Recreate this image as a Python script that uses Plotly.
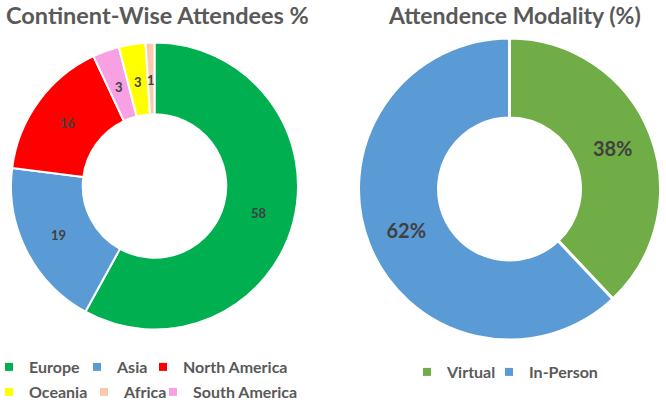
import math
import plotly.graph_objects as go

# ---- data ----
continents = ["Europe", "Asia", "North America", "South America", "Oceania", "Africa"]
continent_pct = [58, 19, 16, 3, 3, 1]
continent_colors = ["#00B050", "#5B9BD5", "#FF0000", "#F8A0E4", "#FFFF00", "#F8CBAD"]
legend_order = ["Europe", "Asia", "North America", "Oceania", "Africa", "South America"]

modality = ["Virtual", "In-Person"]
modality_pct = [38, 62]
modality_colors = ["#70AD47", "#5B9BD5"]

title_left = "Continent-Wise Attendees %"
title_right = "Attendence Modality (%)"

W, H = 666, 402
FONT = "Lato"
GREY = "#595959"
DARK = "#404040"

fig = go.Figure()

# left donut geometry (pixels)
lcx, lcy, lr = 154.5, 186.0, 143.5
lhole = 0.5
small = [v < 5 for v in continent_pct]
fig.add_trace(go.Pie(
    labels=continents, values=continent_pct, sort=False, direction="clockwise",
    rotation=0, hole=lhole,
    marker=dict(colors=continent_colors, line=dict(color="white", width=2)),
    texttemplate=["" if s else "%{value}" for s in small],
    textposition="inside", insidetextorientation="horizontal",
    textfont=dict(family=FONT, size=13, color=DARK, weight="bold"),
    domain=dict(x=[(lcx - lr) / W, (lcx + lr) / W], y=[1 - (lcy + lr) / H, 1 - (lcy - lr) / H]),
    showlegend=False, hoverinfo="label+value",
))

# labels of the thin slices, placed at mid-ring along each slice's bisector
annotations = []
total = sum(continent_pct)
cum = 0
rmid = lr * (1 + lhole) / 2 - 2
for v, s in zip(continent_pct, small):
    if s:
        ang = 2 * math.pi * (cum + v / 2) / total
        px = lcx + rmid * math.sin(ang)
        py = lcy - rmid * math.cos(ang)
        annotations.append(dict(text=str(v), x=px / W, y=1 - py / H, xref="paper", yref="paper",
                                showarrow=False, xanchor="center", yanchor="middle",
                                font=dict(family=FONT, size=13, color=DARK, weight="bold")))
    cum += v

# right donut geometry (pixels)
rcx, rcy, rr = 509.5, 189.0, 151.0
fig.add_trace(go.Pie(
    labels=modality, values=modality_pct, sort=False, direction="clockwise",
    rotation=0, hole=0.47,
    marker=dict(colors=modality_colors, line=dict(color="white", width=3)),
    textinfo="percent", textposition="inside", insidetextorientation="horizontal",
    textfont=dict(family=FONT, size=20, color=DARK, weight="bold"),
    domain=dict(x=[(rcx - rr) / W, (rcx + rr) / W], y=[1 - (rcy + rr) / H, 1 - (rcy - rr) / H]),
    showlegend=False, hoverinfo="label+percent",
))

# legend entries: one small legend per entry so each sits where the reference has it
cmap = dict(zip(continents, continent_colors))
cmap.update(dict(zip(modality, modality_colors)))
entries = legend_order + modality
text_x = [29, 117, 183, 29, 124, 193, 447, 529]   # left edge of legend text (px)
row_y = [367, 367, 367, 392, 392, 392, 372, 372]  # legend row centre (px)

legfont = dict(family=FONT, size=16, color=GREY, weight="bold")
legend_layouts = {}
for i, (name, tx, ty) in enumerate(zip(entries, text_x, row_y)):
    key = "legend" if i == 0 else f"legend{i + 1}"
    fig.add_trace(go.Scatter(x=[None], y=[None], mode="markers", name=name,
                             marker=dict(symbol="square", size=8, color=cmap[name]),
                             legend=key))
    legend_layouts[key] = dict(orientation="h", font=legfont, bgcolor="rgba(0,0,0,0)",
                               itemwidth=30, xanchor="left", yanchor="middle",
                               x=(tx - 40) / W, y=1 - ty / H)

annotations += [
    dict(text=title_left, x=157 / W, y=1 - 15 / H, xref="paper", yref="paper",
         showarrow=False, xanchor="center", yanchor="middle",
         font=dict(family=FONT, size=23.5, color=GREY, weight="bold")),
    dict(text=title_right, x=514 / W, y=1 - 15 / H, xref="paper", yref="paper",
         showarrow=False, xanchor="center", yanchor="middle",
         font=dict(family=FONT, size=23, color=GREY, weight="bold")),
]

fig.update_layout(
    width=W, height=H, margin=dict(l=0, r=0, t=0, b=0, autoexpand=False),
    paper_bgcolor="white", plot_bgcolor="white",
    xaxis=dict(visible=False), yaxis=dict(visible=False),
    annotations=annotations,
    uniformtext=dict(minsize=12, mode="show"),
    **legend_layouts,
)

fig.write_html("out.html")
